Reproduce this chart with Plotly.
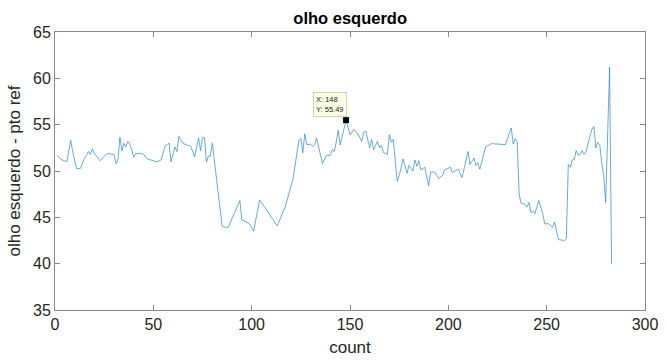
import plotly.graph_objects as go

# sampled readings of the trace (count, value)
count = [1, 3, 6, 8, 9, 11, 13, 15, 16, 17, 18, 19, 20, 23, 26, 27, 29, 30, 31, 32,
         33, 34, 35, 36, 37, 38, 39, 40, 41, 44, 45, 47, 50, 52, 54, 55, 56, 58, 59, 61,
         62, 63, 65, 67, 69, 71, 73, 74, 75, 76, 77, 78, 79, 80, 85, 88, 94, 95, 99, 101,
         104, 106, 108, 111, 113, 117, 121, 124, 125, 126, 127, 128, 130, 131, 132, 133, 136, 138, 140, 141,
         142, 143, 144, 145, 148, 150, 152, 154, 156, 157, 158, 160, 161, 162, 164, 165, 166, 167, 169, 170,
         171, 172, 174, 175, 177, 179, 180, 182, 183, 184, 185, 186, 188, 190, 191, 193, 195, 197, 198, 201,
         202, 205, 207, 210, 211, 213, 214, 215, 216, 219, 222, 229, 232, 233, 234, 235, 236, 237, 239, 240,
         241, 242, 243, 244, 246, 248, 249, 251, 253, 254, 256, 259, 260, 261, 262, 263, 264, 265, 266, 267,
         268, 269, 270, 272, 273, 274, 275, 276, 277, 278, 279, 280, 282, 283]
value = [51.7, 51.25, 51.0, 53.3, 52.1, 50.25, 50.3, 51.4, 51.7, 52.1, 51.8, 52.4, 51.9, 51.1, 51.8, 51.9, 51.8, 51.8, 50.8, 51.2,
         53.6, 52.2, 53.0, 52.6, 53.2, 52.9, 52.3, 51.5, 51.9, 51.9, 51.8, 51.3, 51.1, 51.0, 51.2, 51.9, 52.7, 53.0, 51.0, 52.6,
         52.1, 53.75, 53.0, 52.8, 52.7, 51.5, 53.6, 52.2, 53.6, 53.6, 50.95, 51.6, 51.6, 53.0, 44.0, 43.9, 46.8, 44.75, 44.3, 43.5,
         46.85, 46.3, 45.7, 44.8, 44.07, 46.1, 49.1, 53.3, 53.5, 51.96, 54.0, 52.85, 52.9, 52.65, 52.85, 53.57, 50.8, 51.7, 51.7, 52.3,
         52.1, 53.1, 54.4, 52.8, 55.49, 53.9, 54.5, 54.0, 53.2, 54.2, 54.3, 52.5, 53.4, 52.3, 53.2, 52.5, 52.75, 52.0, 51.8, 53.9,
         53.1, 53.4, 48.9, 49.5, 51.3, 49.75, 50.6, 50.0, 51.2, 50.5, 51.1, 50.1, 50.4, 48.4, 49.9, 49.9, 49.2, 49.5, 50.1, 50.4,
         49.85, 50.2, 49.3, 52.1, 50.7, 51.4, 50.6, 50.9, 50.2, 52.6, 52.95, 52.85, 54.65, 52.9, 53.5, 53.2, 47.5, 46.5, 46.4, 46.1,
         46.6, 45.5, 45.7, 45.4, 46.8, 45.4, 44.3, 44.3, 43.9, 44.5, 42.6, 42.5, 42.7, 50.7, 50.4, 51.2, 51.25, 52.2, 51.7, 51.8,
         52.2, 51.8, 52.1, 53.75, 54.5, 54.8, 52.5, 53.1, 52.8, 50.9, 49.5, 46.6, 61.2, 40.0]

tip_x = 148
tip_y = 55.49

x_ticks = [0, 50, 100, 150, 200, 250, 300]
y_ticks = [35, 40, 45, 50, 55, 60, 65]

font_family = "Liberation Sans, Arial, sans-serif"
axis_col = "#8a8a8a"
tick_col = "#262626"

fig = go.Figure()
fig.add_trace(go.Scatter(x=count, y=value, mode="lines",
                         line=dict(color="#2a86c8", width=0.7), showlegend=False,
                         hoverinfo="skip"))
fig.add_trace(go.Scatter(x=[tip_x], y=[tip_y], mode="markers",
                         marker=dict(symbol="square", size=6, color="black"),
                         showlegend=False))

fig.add_annotation(x=tip_x, y=tip_y, xref="x", yref="y",
                   text=f"X: {tip_x}<br>Y: {tip_y}", showarrow=False,
                   xanchor="right", yanchor="bottom", xshift=1, yshift=3,
                   align="left", font=dict(family=font_family, size=7.5, color="#222222"),
                   bgcolor="#ffffe6", bordercolor="#d0d0c0", borderwidth=1, borderpad=2)

axis_common = dict(showgrid=False, zeroline=False, showline=True, mirror="allticks",
                   linecolor=axis_col, linewidth=1, ticks="inside", ticklen=5,
                   tickcolor=axis_col, tickfont=dict(family=font_family, size=16, color=tick_col))

fig.update_xaxes(range=[0, 300], tickvals=x_ticks, **axis_common,
                 title=dict(text="count", font=dict(family=font_family, size=17, color=tick_col),
                            standoff=8))
fig.update_yaxes(range=[35, 65], tickvals=y_ticks, **axis_common,
                 title=dict(text="olho esquerdo - pto ref",
                            font=dict(family=font_family, size=17, color=tick_col), standoff=8))

fig.update_layout(
    width=667, height=360,
    margin=dict(l=55, r=22, t=32, b=50, autoexpand=False),
    paper_bgcolor="white", plot_bgcolor="white",
    title=dict(text="<b>olho esquerdo</b>", x=0.525, xanchor="center", y=0.95, yanchor="middle",
               font=dict(family=font_family, size=16.5, color="black")),
)
fig.write_html("out.html")
